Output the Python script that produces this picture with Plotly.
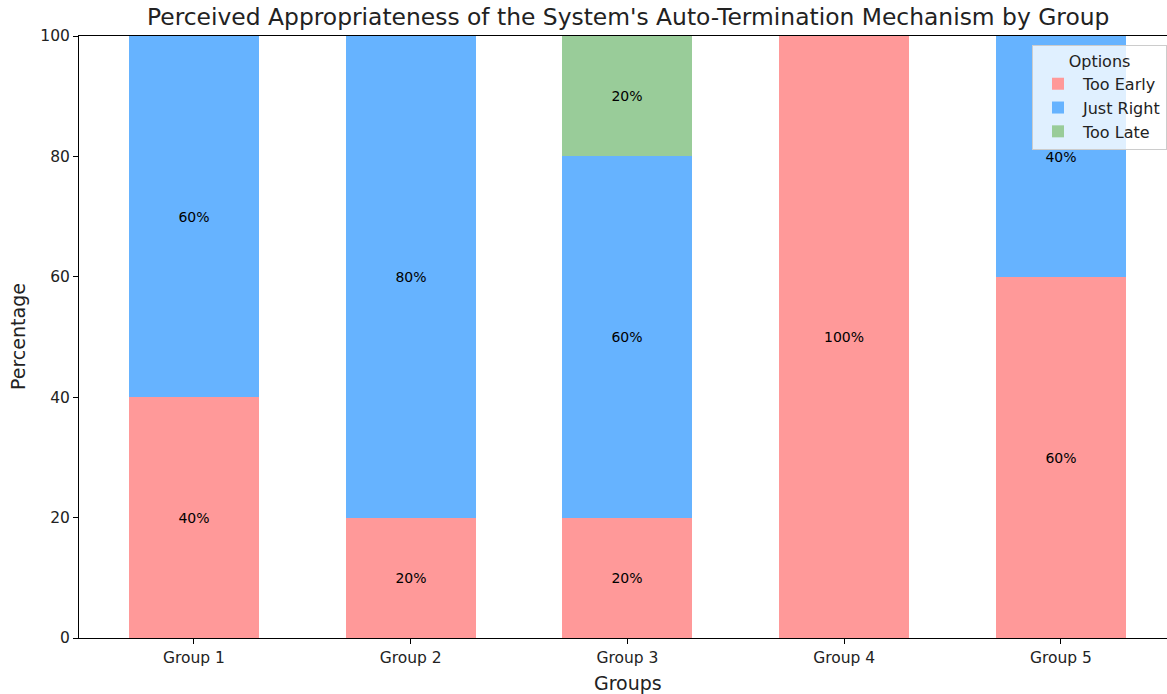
import plotly.graph_objects as go

groups = ["Group 1", "Group 2", "Group 3", "Group 4", "Group 5"]
too_early = [40, 20, 20, 100, 60]
just_right = [60, 80, 60, 0, 40]
too_late = [0, 0, 20, 0, 0]
series_names = ["Too Early", "Just Right", "Too Late"]
colors = ["#ff9999", "#66b3ff", "#99cc99"]
y_ticks = [0, 20, 40, 60, 80, 100]

W, H = 1167, 694
L, T, B = 79, 36, 56
FONT = "DejaVu Sans"

fig = go.Figure()
xpos = list(range(len(groups)))
for name, vals, col in zip(series_names, [too_early, just_right, too_late], colors):
    fig.add_trace(go.Bar(
        x=xpos, y=vals, name=name, width=0.6,
        marker=dict(color=col, line=dict(width=0)),
        text=[f"{v}%" if v > 0 else "" for v in vals],
        textposition="inside", insidetextanchor="middle", textangle=0,
        constraintext="none",
        textfont=dict(family=FONT, size=14, color="black"),
        hoverinfo="skip",
    ))

# full axes would span [-0.53, 4.53]; image is cropped at right edge
x_left = -0.53
unit = 216.75
x_right = x_left + (W - L) / unit

fig.update_layout(
    width=W, height=H, barmode="stack", bargap=0,
    plot_bgcolor="white", paper_bgcolor="white",
    margin=dict(l=L, r=0, t=T, b=B),
    font=dict(family=FONT, color="#222"),
    showlegend=True,
    legend=dict(
        title=dict(text="Options", side="top center", font=dict(family=FONT, size=16, color="#222")),
        traceorder="normal",
        x=1, xanchor="right", y=0.985, yanchor="top",
        bgcolor="rgba(255,255,255,0.8)", bordercolor="#cccccc", borderwidth=1,
        font=dict(family=FONT, size=16, color="#222"),
        itemsizing="constant", tracegroupgap=0, itemwidth=40,
    ),
    xaxis=dict(
        range=[x_left, x_right], tickmode="array", tickvals=xpos, ticktext=groups,
        showline=True, linecolor="black", linewidth=1, mirror=True,
        ticks="outside", ticklen=5, tickcolor="black", showgrid=False, zeroline=False,
        tickfont=dict(family=FONT, size=15.5, color="#222"),
    ),
    yaxis=dict(
        range=[0, 100], tickvals=y_ticks,
        showline=True, linecolor="black", linewidth=1,
        ticks="outside", ticklen=5, tickcolor="black", showgrid=False, zeroline=False,
        tickfont=dict(family=FONT, size=15.5, color="#222"),
    ),
)

cx = (628 - L) / (W - L)
fig.add_annotation(text="Perceived Appropriateness of the System's Auto-Termination Mechanism by Group",
                   xref="paper", yref="paper", x=cx, y=1, yanchor="bottom", yshift=3,
                   showarrow=False, font=dict(family=FONT, size=23.4, color="#222"))
fig.add_annotation(text="Groups", xref="paper", yref="paper", x=cx, y=0, yanchor="top", yshift=-32,
                   showarrow=False, font=dict(family=FONT, size=19, color="#222"))
fig.add_annotation(text="Percentage", xref="paper", yref="paper", x=0, xanchor="right", xshift=-48,
                   y=0.5, textangle=-90, showarrow=False, font=dict(family=FONT, size=19, color="#222"))

fig.write_html("out.html", config={"displayModeBar": False},
               post_script="document.body.style.margin='0';")
